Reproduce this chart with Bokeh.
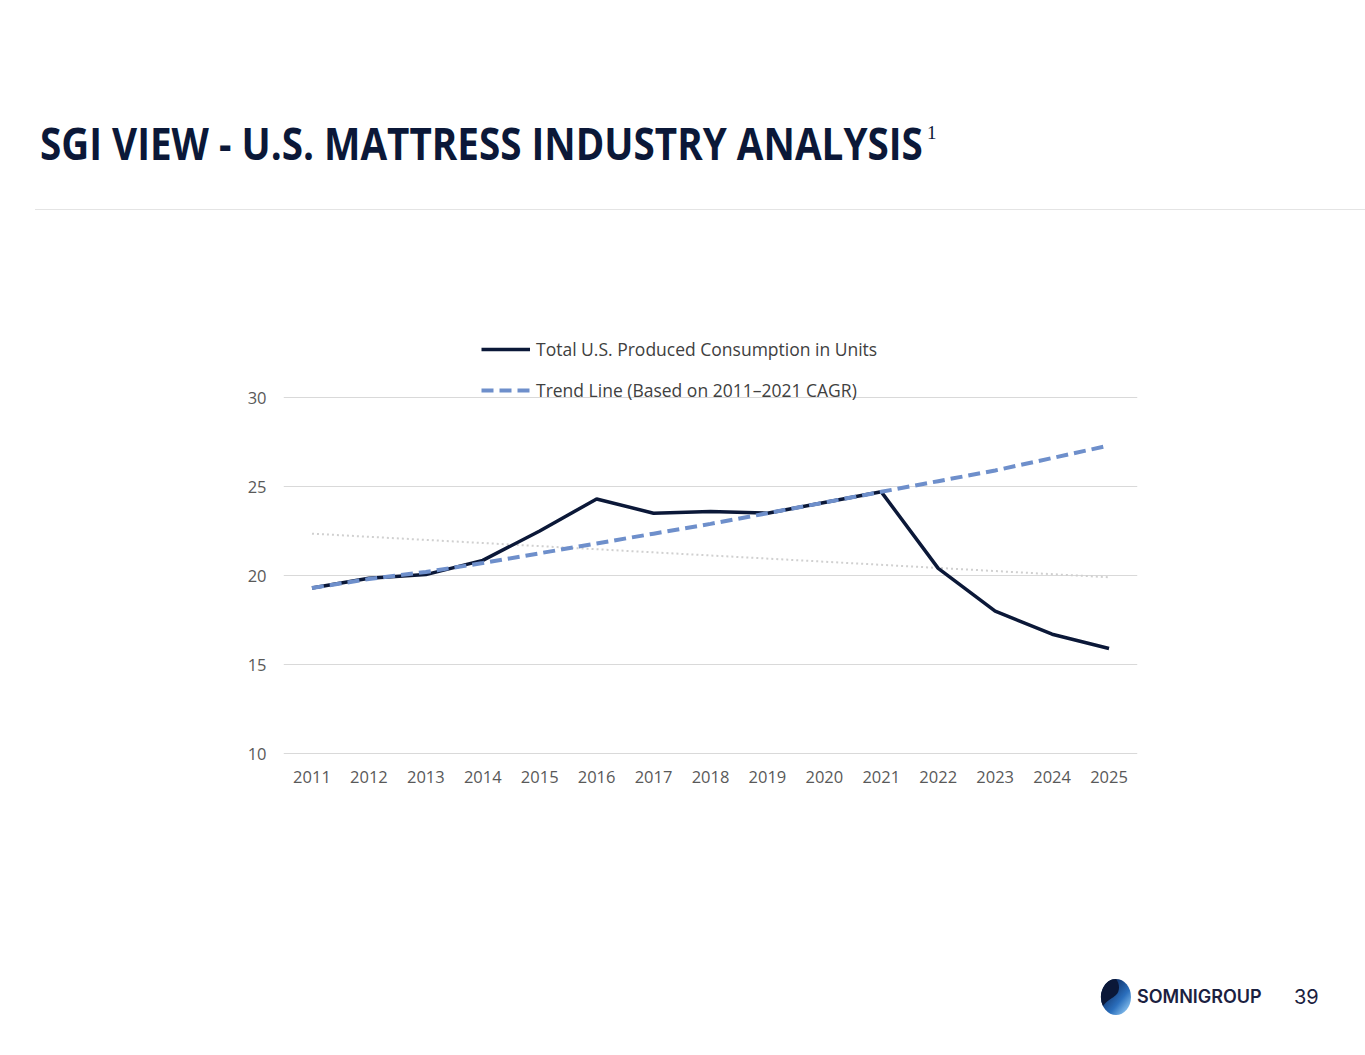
from bokeh.embed import file_html
from bokeh.resources import INLINE
from bokeh.plotting import figure
from bokeh.layouts import column
from bokeh.models import ColumnDataSource, Range1d, FixedTicker, Legend, LegendItem, Div

# chart values (millions of units)
years = [2011, 2012, 2013, 2014, 2015, 2016, 2017, 2018, 2019, 2020, 2021, 2022, 2023, 2024, 2025]
total_units = [19.3, 19.85, 20.05, 20.85, 22.5, 24.3, 23.5, 23.6, 23.5, 24.1, 24.7, 20.4, 18.0, 16.7, 15.9]
trend_units = [19.3, 19.8, 20.2, 20.7, 21.25, 21.8, 22.35, 22.9, 23.5, 24.1, 24.7, 25.3, 25.9, 26.6, 27.3]
linear_fit_years = [2011, 2025]
linear_fit_units = [22.35, 19.9]
y_ticks = [10, 15, 20, 25, 30]

title_text = "SGI VIEW - U.S. MATTRESS INDUSTRY ANALYSIS"
footnote_mark = "1"
brand = "SOMNIGROUP"
page_no = "39"

NAVY = "#0b1838"
TREND = "#6e8fcb"
W = 1365

# page slices (page pixels, top to bottom): header 0-230, chart 230-830, footer 830-1055
HEAD_H, MAIN_H, FOOT_H = 230, 600, 225

# header: slide title + thin separator line
head_html = f"""
<div style="position:relative;width:{W}px;height:{HEAD_H}px;overflow:hidden;">
  <span style="position:absolute;left:40px;top:121px;line-height:1;white-space:nowrap;
    font-family:'Open Sans';font-weight:700;font-size:44px;color:{NAVY};
    display:inline-block;transform:scaleX(0.878);transform-origin:0 0;">{title_text}</span>
  <span style="position:absolute;left:927px;top:123px;line-height:1;
    font-family:'Liberation Serif';font-size:19px;color:{NAVY};">{footnote_mark}</span>
  <div style="position:absolute;left:35px;top:209px;width:{W - 35}px;height:1px;background:#e4e4e4;"></div>
</div>
"""
head = Div(text=head_html, width=W, height=HEAD_H, margin=0)

# main chart; frame: left 283, right 1137, top 330, bottom 755 in page pixels
F_LEFT, F_RIGHT, F_TOP, F_BOT = 283, 1137, 330, 755
PX_PER_UNIT = 17.8
y_lo = 10 - (F_BOT - 753) / PX_PER_UNIT
y_hi = 30 + (397 - F_TOP) / PX_PER_UNIT
p = figure(width=W, height=MAIN_H, output_backend="svg", toolbar_location=None,
           x_range=Range1d(2010.5, 2025.5), y_range=Range1d(y_lo, y_hi),
           min_border_left=F_LEFT, min_border_right=W - F_RIGHT,
           min_border_top=F_TOP - HEAD_H, min_border_bottom=HEAD_H + MAIN_H - F_BOT,
           margin=0)
p.outline_line_color = None
p.xgrid.grid_line_color = None
p.ygrid.grid_line_color = "#d9d9d9"
p.ygrid.grid_line_width = 1
p.yaxis.ticker = FixedTicker(ticks=y_ticks)
p.xaxis.ticker = FixedTicker(ticks=years)

for ax in (p.xaxis[0], p.yaxis[0]):
    ax.axis_line_color = None
    ax.major_tick_line_color = None
    ax.minor_tick_line_color = None
    ax.major_tick_out = 0
    ax.major_tick_in = 0
    ax.major_label_text_font = "Open Sans"
    ax.major_label_text_font_size = "16.5px"
    ax.major_label_text_color = "#595959"
p.xaxis.major_label_standoff = 15
p.yaxis.major_label_standoff = 17

src = ColumnDataSource(dict(year=years, total=total_units, trend=trend_units))

p.line(linear_fit_years, linear_fit_units, line_color="#d0d0d0", line_width=2, line_dash="2 3")
r_total = p.line("year", "total", source=src, line_color=NAVY, line_width=3.5)
r_trend = p.line("year", "trend", source=src, line_color=TREND, line_width=4, line_dash="12 6")

legend = Legend(items=[LegendItem(label="Total U.S. Produced Consumption in Units", renderers=[r_total]),
                       LegendItem(label="Trend Line (Based on 2011\u20132021 CAGR)", renderers=[r_trend])],
                location=(481 - F_LEFT, F_BOT - 401.5), orientation="vertical", padding=0, margin=0,
                spacing=17, glyph_width=49, glyph_height=20, label_height=20, label_standoff=6,
                label_text_font="Open Sans", label_text_font_size="17.5px", label_text_color="#404040",
                background_fill_alpha=0, border_line_color=None)
p.add_layout(legend, "center")

# footer: logo mark, brand name, page number (positions relative to footer top at 830)
foot_html = f"""
<div style="position:relative;width:{W}px;height:{FOOT_H}px;overflow:hidden;">
  <svg style="position:absolute;left:1099px;top:146px;" width="34" height="42" viewBox="0 0 34 42">
    <defs>
      <linearGradient id="lg" x1="0.2" y1="0.2" x2="0.9" y2="0.9">
        <stop offset="0" stop-color="#0d2a5e"/>
        <stop offset="0.6" stop-color="#2b6fbd"/>
        <stop offset="1" stop-color="#8cc4f0"/>
      </linearGradient>
    </defs>
    <ellipse cx="17" cy="21" rx="15" ry="18" fill="url(#lg)"/>
    <path d="M17 3 A15 18 0 0 0 4 30 C8 24 14 22 17 19 C21 15 21 8 17 3 Z" fill="{NAVY}"/>
  </svg>
  <span style="position:absolute;left:1137px;top:158px;line-height:1;white-space:nowrap;
    font-family:'Inter';font-weight:600;font-size:18px;color:#1b2140;">{brand}</span>
  <span style="position:absolute;left:1294px;top:157px;line-height:1;
    font-family:'Inter';font-size:20px;color:#1b2140;">{page_no}</span>
</div>
"""
foot = Div(text=foot_html, width=W, height=FOOT_H, margin=0)

layout = column(head, p, foot, spacing=0)
open("out.html", "w").write(file_html(layout, INLINE))
